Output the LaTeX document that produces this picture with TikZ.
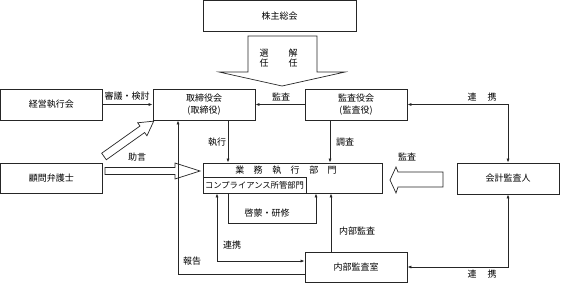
\documentclass[tikz,border=0pt]{standalone}
\usepackage{fontspec}
\setmainfont{Noto Sans CJK JP}
\usetikzlibrary{arrows.meta}
\begin{document}
\begin{tikzpicture}[x=1pt,y=-1pt,
  box/.style={draw=black!85, line width=0.8pt, inner sep=0pt, font=\fontsize{9}{11}\selectfont, align=center},
  conn/.style={draw=black!85, line width=0.7pt, -{Latex[length=4pt,width=3pt]}},
  conn2/.style={draw=black!85, line width=0.7pt, {Latex[length=4pt,width=3pt]}-{Latex[length=4pt,width=3pt]}},
  plain/.style={draw=black!85, line width=0.7pt},
  hollow/.style={draw=black!85, line width=0.7pt, fill=white},
  lbl/.style={inner sep=0pt, font=\fontsize{9}{10}\selectfont, align=center}]
\useasboundingbox (0,0) rectangle (561,284);
\fill[white] (0,0) rectangle (561,284);

% boxes
\node[box, minimum width=153pt, minimum height=30.5pt] (top) at (279.5,15.75) {株主総会};
\node[box, minimum width=101.5pt, minimum height=31pt] (keiei) at (51.25,104.5) {経営執行会};
\node[box, minimum width=102pt, minimum height=31pt] (tori) at (204,104.5) {取締役会\\[1pt](取締役)};
\node[box, minimum width=102pt, minimum height=31pt] (kansa) at (356,104.5) {監査役会\\[1pt](監査役)};
\node[box, minimum width=101.5pt, minimum height=30pt] (komon) at (51.25,178) {顧問弁護士};
\node[box, minimum width=102pt, minimum height=31pt] (kaikei) at (508,178.5) {会計監査人};
\node[box, minimum width=179pt, minimum height=30pt] (gyomu) at (292.5,178) {};
\node[lbl] (gyomut) at (286,170.5) {業\hspace{9.5pt}務\hspace{9.5pt}執\hspace{9.5pt}行\hspace{9.5pt}部\hspace{9.5pt}門};
\node[box, minimum width=103pt, minimum height=16pt, font=\fontsize{8.3}{9}\selectfont] (comp) at (254.5,185) {コンプライアンス所管部門};
\node[box, minimum width=102pt, minimum height=30.5pt] (naibu) at (356,267.25) {内部監査室};

% hollow arrows
\draw[hollow] (248,36) -- (317,36) -- (317,72) -- (345,72) -- (282,86) -- (219,72) -- (248,72) -- cycle;
\node[lbl, font=\fontsize{9}{10}\selectfont] (sen) at (264,58) {選\\任};
\node[lbl, font=\fontsize{9}{10}\selectfont] (kai) at (293,58) {解\\任};
\begin{scope}[shift={(104,156.5)}, rotate=35.4]
\draw[hollow] (0,-4) -- (47,-4) -- (47,-8) -- (61,0) -- (47,8) -- (47,4) -- (0,4) -- cycle;
\end{scope}
\draw[hollow] (105,167.5) -- (175,167.5) -- (175,163) -- (200,171) -- (175,179) -- (175,174.5) -- (105,174.5) -- cycle;
\draw[hollow] (443,172) -- (398,172) -- (396,167) -- (390,180) -- (396,193) -- (398,187) -- (443,187) -- cycle;

% helper coordinates
\coordinate (xa) at (228,0);
\coordinate (xb) at (330,0);
\coordinate (xc) at (316,0);
\coordinate (xd) at (331,0);
\coordinate (xe) at (178,0);
\coordinate (loopb) at (228,223);
\coordinate (r1) at (217,261);
\coordinate (r2) at (0,274);
\coordinate (r3) at (0,267);

% connectors
\draw[conn] (keiei) -- (tori);
\draw[conn] (kansa.west) -- (tori.east);
\draw[conn2] (kansa.east) -| (kaikei.north);
\draw[conn] (tori.south -| xa) -- (gyomu.north -| xa);
\draw[conn] (kansa.south -| xb) -- (gyomu.north -| xb);
\draw[conn] (comp.south -| xa) -- (loopb) -| (gyomu.south -| xc);
\draw[conn2] (comp.south -| r1) |- (naibu.west |- r1);
\draw[conn] (naibu.north -| xd) -- (gyomu.south -| xd);
\draw[conn] (naibu.west |- r2) -| (tori.south -| xe);
\draw[conn2] (naibu.east |- r3) -| (kaikei.south);

% labels
\node[lbl] (l1) at (127,96) {審議・検討};
\node[lbl] (l2) at (281,97) {監査};
\node[lbl] (l3) at (482,97) {連\hspace{11pt}携};
\node[lbl] (l4) at (217,142) {執行};
\node[lbl] (l5) at (345,142) {調査};
\node[lbl] (l6) at (137,157) {助言};
\node[lbl] (l7) at (407,157) {監査};
\node[lbl] (l8) at (267,213) {啓蒙・研修};
\node[lbl] (l9) at (357,231) {内部監査};
\node[lbl] (l10) at (232,245) {連携};
\node[lbl] (l11) at (192,261) {報告};
\node[lbl] (l12) at (482,274) {連\hspace{11pt}携};
\end{tikzpicture}
\end{document}
